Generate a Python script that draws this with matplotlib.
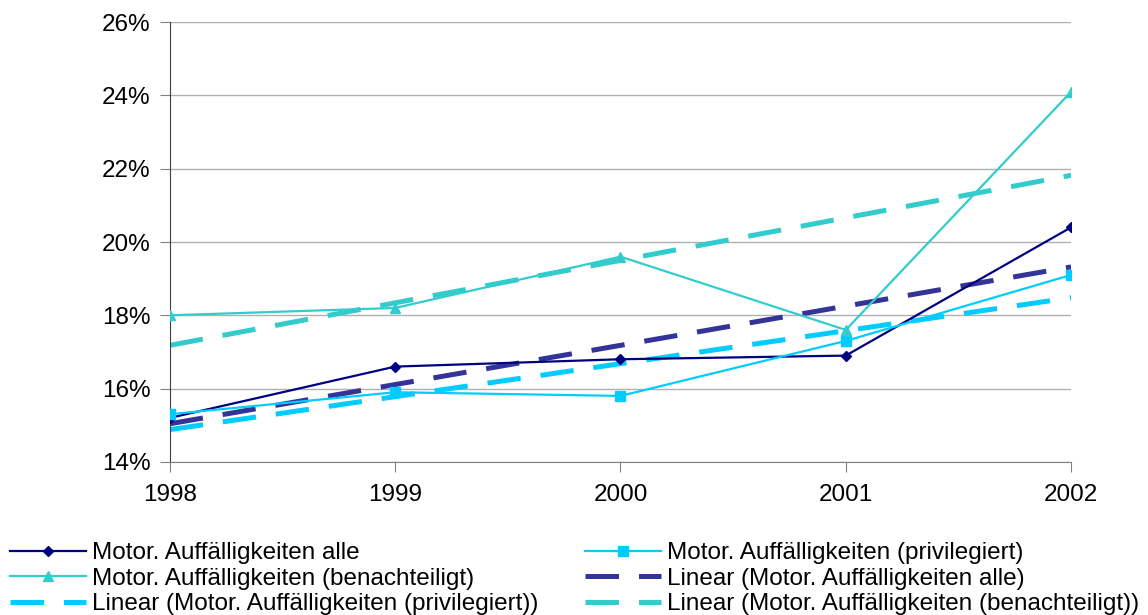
import matplotlib.pyplot as plt
import numpy as np
from matplotlib.ticker import FuncFormatter

plt.rcParams['font.family'] = ['Liberation Sans', 'DejaVu Sans']

years = [1998, 1999, 2000, 2001, 2002]
alle = [15.2, 16.6, 16.8, 16.9, 20.4]
privilegiert = [15.3, 15.9, 15.8, 17.3, 19.1]
benachteiligt = [18.0, 18.2, 19.6, 17.6, 24.1]

labels = ["Motor. Auffälligkeiten alle",
          "Motor. Auffälligkeiten (privilegiert)",
          "Motor. Auffälligkeiten (benachteiligt)"]
colors = ["#000080", "#00CCFF", "#33CCCC"]
trend_colors = ["#333399", "#00CCFF", "#33CCCC"]
markers = ["D", "s", "^"]
msizes = [5.5, 6.5, 7]

fig = plt.figure(figsize=(11.48, 6.15), dpi=100)
ax = fig.add_axes([0.148, 0.249, 0.785, 0.715])

x = np.array(years)
handles = []
for y, lab, c, m, ms in zip([alle, privilegiert, benachteiligt], labels, colors, markers, msizes):
    h, = ax.plot(x, y, color=c, lw=1.6, marker=m, markersize=ms, label=lab, zorder=3)
    handles.append(h)

trend_handles = []
for y, lab, c in zip([alle, privilegiert, benachteiligt], labels, trend_colors):
    k, d = np.polyfit(x, y, 1)
    h, = ax.plot(x, k * x + d, color=c, lw=3.6, dashes=(6.7, 4),
                 label="Linear (" + lab + ")", zorder=2)
    trend_handles.append(h)

ax.set_xlim(1998, 2002)
ax.set_ylim(14, 26)
ax.set_xticks(years)
ax.set_yticks(range(14, 27, 2))
ax.yaxis.set_major_formatter(FuncFormatter(lambda v, p: "%d%%" % v))
ax.grid(axis='y', color='#B0B0B0', lw=1)
ax.set_axisbelow(True)
for s in ['top', 'right']:
    ax.spines[s].set_visible(False)
ax.spines['left'].set_color('#404040')
ax.spines['bottom'].set_color('#808080')
ax.tick_params(axis='both', colors='#808080', labelcolor='black', labelsize=17.5)
ax.tick_params(axis='x', length=7, pad=9)
ax.tick_params(axis='y', length=7, pad=7)

kw = dict(frameon=False, fontsize=17.5, handlelength=3.1, handletextpad=0.25,
          labelspacing=0.14, borderaxespad=0, borderpad=0, loc='upper left')
fig.legend([handles[0], handles[2], trend_handles[1]],
           [handles[0].get_label(), handles[2].get_label(), trend_handles[1].get_label()],
           bbox_to_anchor=(0.009, 0.118), **kw)
fig.legend([handles[1], trend_handles[0], trend_handles[2]],
           [handles[1].get_label(), trend_handles[0].get_label(), trend_handles[2].get_label()],
           bbox_to_anchor=(0.51, 0.118), **kw)

fig.savefig("out.png", dpi=100)
